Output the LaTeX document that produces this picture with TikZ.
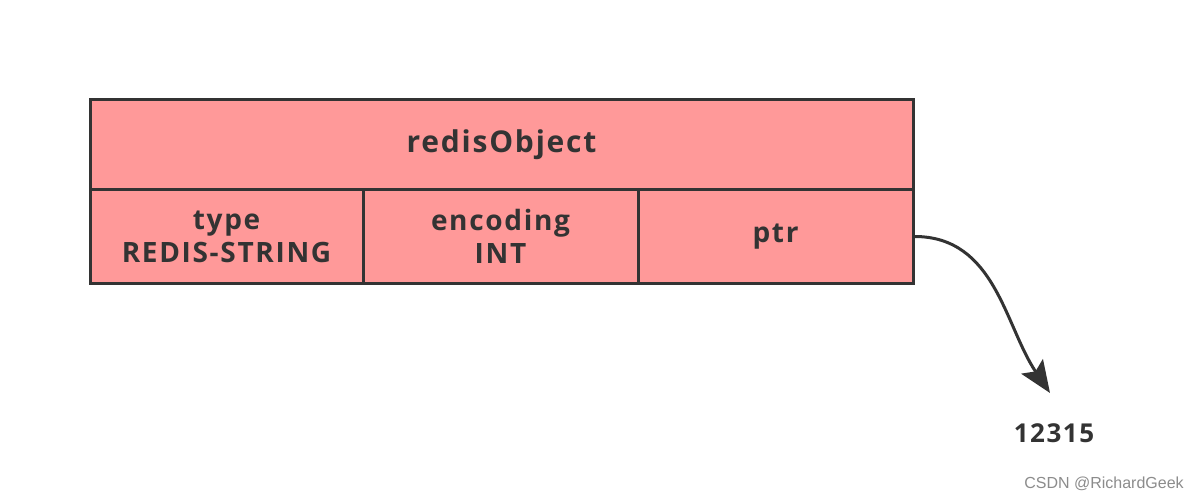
\documentclass[tikz,border=0pt]{standalone}
\usepackage{fontspec}
\setmainfont{Open Sans}[LetterSpace=6]
\newfontfamily\wmfont{Liberation Sans}
\usetikzlibrary{arrows.meta}
\definecolor{cellred}{HTML}{FF9999}
\definecolor{ink}{HTML}{333333}

\begin{document}
\begin{tikzpicture}[x=0.5pt,y=-0.5pt]
    \tikzstyle{field}=[rectangle,draw=ink,fill=cellred,line width=1.5pt,text=ink,
        font=\bfseries\fontsize{14}{16.5}\selectfont,align=center,inner sep=0pt,
        minimum height=46.5pt]
    \tikzstyle{header}=[field,minimum width=411.5pt,minimum height=45pt,
        font=\bfseries\fontsize{15}{18}\selectfont]
    \tikzstyle{pointer}=[draw=ink,line width=1.5pt,-{Stealth[length=16pt,width=13pt,inset=3pt]}]

    \useasboundingbox[fill=white] (0,0) rectangle (1198,502);

    % Draw the object header
    \node[header] (head) at (501.5,145) {redisObject};

    % Draw the three fields
    \node[field,minimum width=136.5pt] (type) at (226.5,236.5) {type\\REDIS-STRING};
    \node[field,minimum width=137.5pt] (enc) at (500.5,236.5) {encoding\\INT};
    \node[field,minimum width=137.5pt] (ptr) at (775.5,236.5) {ptr};

    % Draw the value the pointer refers to
    \node[text=ink,font=\bfseries\fontsize{13}{16}\selectfont] (val) at (1054,433) {12315};
    \coordinate (tip) at (1050,393);

    % Connect the pointer field with its value
    \draw[pointer] (ptr.east) to[out=0,in=124] (tip);

    % Watermark
    \node[text=black!45,font=\wmfont\fontsize{8}{10}\selectfont] (mark) at (1104,484) {CSDN @RichardGeek};
\end{tikzpicture}
\end{document}
